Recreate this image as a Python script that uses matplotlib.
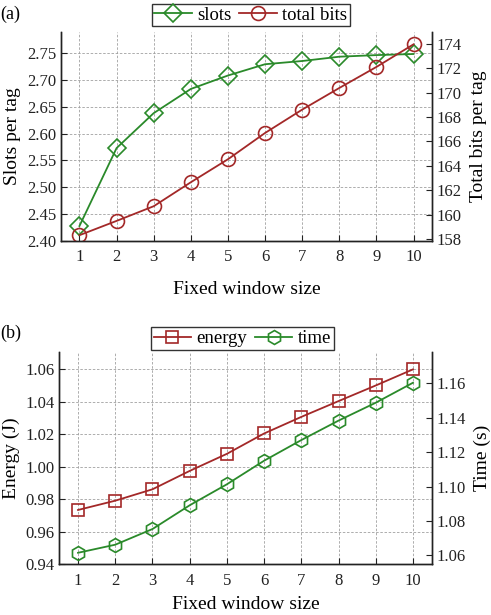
import matplotlib

matplotlib.use("Agg")
import matplotlib.pyplot as plt

plt.rcParams["font.family"] = ["Liberation Serif", "DejaVu Serif"]
plt.rcParams["mathtext.fontset"] = "stix"

GREEN = "#2a8a2a"
RED = "#a32828"

window = [1, 2, 3, 4, 5, 6, 7, 8, 9, 10]

# panel (a)
slots = [2.428, 2.573, 2.638, 2.683, 2.708, 2.729, 2.735, 2.743, 2.746, 2.748]
total_bits = [158.33, 159.5, 160.7, 162.66, 164.54, 166.69, 168.6, 170.37, 172.09, 173.94]

# panel (b)
energy = [0.9734, 0.9791, 0.9861, 0.9974, 1.0079, 1.0204, 1.0306, 1.0403, 1.0499, 1.0598]
time_s = [1.0615, 1.0662, 1.0753, 1.0891, 1.1013, 1.1150, 1.1270, 1.1383, 1.1487, 1.1603]

slot_ticks = [2.40, 2.45, 2.50, 2.55, 2.60, 2.65, 2.70, 2.75]
bits_ticks = [158, 160, 162, 164, 166, 168, 170, 172, 174]
energy_ticks = [0.94, 0.96, 0.98, 1.00, 1.02, 1.04, 1.06]
time_ticks = [1.06, 1.08, 1.10, 1.12, 1.14, 1.16]


def style_axes(ax, ax2):
    for a in (ax, ax2):
        a.spines["top"].set_visible(False)
        for s in ("left", "right", "bottom"):
            a.spines[s].set_linewidth(1.0)
            a.spines[s].set_color("#222222")
        a.tick_params(direction="in", length=4, width=0.8, labelsize=12, colors="#222222")
    ax.tick_params(axis="x", pad=6)
    ax.set_xlim(0.5, 10.5)
    ax.set_xticks(window)
    ax.grid(True, linestyle=(0, (3, 2)), color="#a0a0a0", linewidth=0.6)
    ax.set_axisbelow(True)
    ax.set_xlabel("Fixed window size", fontsize=14, labelpad=11)


fig = plt.figure(figsize=(4.91, 6.15), dpi=100)

# ---- (a) ----
ax1 = fig.add_axes([0.124, 0.608, 0.756, 0.340])
ax1b = ax1.twinx()
l1, = ax1.plot(window, slots, color=GREEN, marker="D", markersize=9, mfc="none",
               mec=GREEN, mew=1.2, lw=1.3, label="slots")
l2, = ax1b.plot(window, total_bits, color=RED, marker="o", markersize=10, mfc="none",
                mec=RED, mew=1.2, lw=1.3, label="total bits")
ax1.set_ylim(2.40, 2.789)
ax1.set_yticks(slot_ticks)
ax1.set_yticklabels([f"{v:.2f}" for v in slot_ticks])
ax1b.set_ylim(157.85, 174.95)
ax1b.set_yticks(bits_ticks)
style_axes(ax1, ax1b)
ax1.set_ylabel("Slots per tag", fontsize=14)
ax1b.set_ylabel("Total bits per tag", fontsize=14, labelpad=6)
fig.legend([l1, l2], ["slots", "total bits"], loc="lower center",
           bbox_to_anchor=(0.511, 0.957), ncol=2, fontsize=13.5, frameon=True,
           fancybox=False, edgecolor="#333333", framealpha=1,
           handlelength=2.0, handletextpad=0.3, columnspacing=0.4,
           borderpad=0.15, borderaxespad=0)
fig.text(0.0, 0.977, "(a)", fontsize=13, va="center", ha="left")

# ---- (b) ----
ax2 = fig.add_axes([0.121, 0.0824, 0.758, 0.3448])
ax2b = ax2.twinx()
l3, = ax2.plot(window, energy, color=RED, marker="s", markersize=9, mfc="none",
               mec=RED, mew=1.2, lw=1.3, label="energy")
l4, = ax2b.plot(window, time_s, color=GREEN, marker="h", markersize=10, mfc="none",
                mec=GREEN, mew=1.2, lw=1.3, label="time")
ax2.set_ylim(0.94, 1.0703)
ax2.set_yticks(energy_ticks)
ax2.set_yticklabels([f"{v:.2f}" for v in energy_ticks])
ax2b.set_ylim(1.0548, 1.178)
ax2b.set_yticks(time_ticks)
ax2b.set_yticklabels([f"{v:.2f}" for v in time_ticks])
style_axes(ax2, ax2b)
ax2.xaxis.labelpad = 5
ax2.set_ylabel("Energy (J)", fontsize=14)
ax2b.set_ylabel("Time (s)", fontsize=14, labelpad=6)
fig.legend([l3, l4], ["energy", "time"], loc="lower center",
           bbox_to_anchor=(0.494, 0.431), ncol=2, fontsize=13.5, frameon=True,
           fancybox=False, edgecolor="#333333", framealpha=1,
           handlelength=2.0, handletextpad=0.3, columnspacing=0.4,
           borderpad=0.15, borderaxespad=0)
fig.text(0.0, 0.458, "(b)", fontsize=13, va="center", ha="left")

fig.savefig("out.png", dpi=100)
